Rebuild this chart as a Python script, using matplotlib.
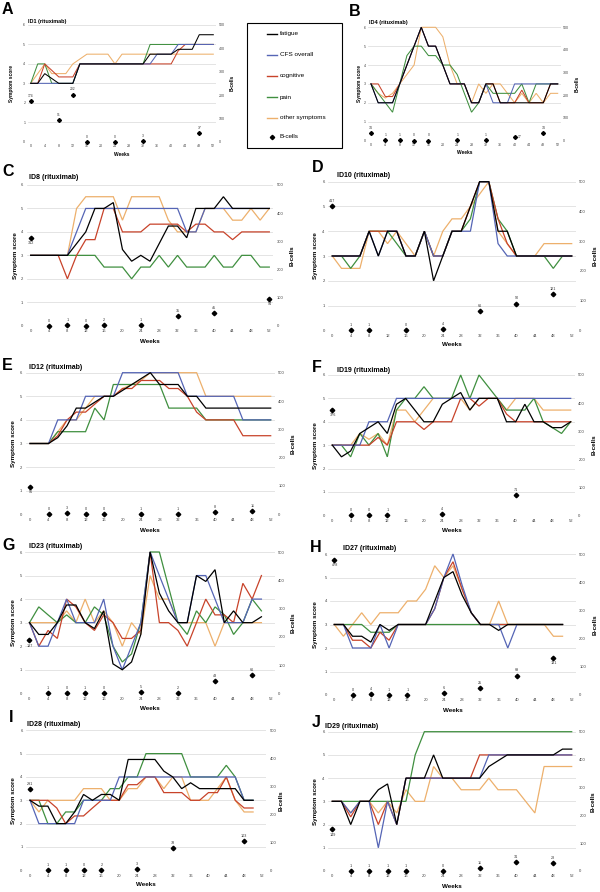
import matplotlib
matplotlib.use('Agg')
import matplotlib.pyplot as plt
from matplotlib.lines import Line2D
from matplotlib.patches import Rectangle

plt.rcParams['font.family'] = ['Liberation Sans', 'DejaVu Sans']

# ---------------- data ----------------
weeks52 = [0, 2, 4, 6, 8, 10, 12, 14, 16, 18, 20, 22, 24, 26, 28, 30, 32, 34, 36, 38, 40, 42, 44, 46, 48, 50, 52]
weeks50 = [0, 2, 4, 6, 8, 10, 12, 14, 16, 18, 20, 22, 24, 26, 28, 30, 32, 34, 36, 38, 40, 42, 44, 46, 48, 50]
series_names = ["fatigue", "CFS overall", "cognitive", "pain", "other symptoms"]
legend_labels = ["fatigue", "CFS overall", "cognitive", "pain", "other symptoms", "B-cells"]

# ID1
A_fatigue = [3, 3, 3.5, 3.25, 3, 3, 3, 4, 4, 4, 4, 4, 4, 4, 4, 4, 4, 4.5, 4.5, 4.5, 4.5, 4.75, 4.75, 4.75, 5.5, 5.5, 5.5]
A_cfs     = [3, 3, 3, 3, 3, 3, 3, 4, 4, 4, 4, 4, 4, 4, 4, 4, 4, 4, 4.5, 4.5, 4.5, 5, 5, 5, 5, 5, 5]
A_cog     = [3, 3, 4, 3.67, 3.33, 3.33, 3.33, 4, 4, 4, 4, 4, 4, 4, 4, 4, 4, 4, 4, 4, 4, 4.67, 5, 5, 5, 5, 5]
A_pain    = [3, 4, 4, 3, 3, 3, 3, 4, 4, 4, 4, 4, 4, 4, 4, 4, 4, 5, 5, 5, 5, 5, 5, 5, 5, 5, 5]
A_other   = [3, 3.5, 4, 3.5, 3.5, 3.5, 4, 4.25, 4.5, 4.5, 4.5, 4.5, 4, 4.5, 4.5, 4.5, 4.5, 4.5, 4.5, 4.5, 4.5, 4.5, 4.5, 4.5, 4.5, 4.5, 4.5]
A_bweeks  = [0, 8, 12, 16, 24, 32, 48]
A_bcells  = [174, 91, 202, 0, 0, 3, 37]

# ID4
B_fatigue = [3, 2, 2, 2, 3, 4, 5, 6, 5, 5, 4, 3, 3, 3, 2, 2, 3, 3, 2, 2, 2, 2, 2, 2, 2, 3, 3]
B_cfs     = [3, 2, 2, 2, 3, 4, 5, 6, 5, 5, 4, 3, 3, 3, 2, 2, 3, 2, 2, 2, 3, 3, 3, 3, 3, 3, 3]
B_cog     = [3, 3, 2.33, 2.33, 3, 4, 5, 6, 5, 5, 4, 3, 3, 3, 2, 2, 3, 3, 2, 2, 2, 2.67, 2, 2, 2, 3, 3]
B_pain    = [3, 2.5, 2, 1.5, 3, 4.5, 5, 5, 4.5, 4.5, 4, 4, 3.5, 2.5, 1.5, 2, 3, 2.5, 2.5, 2.5, 2.5, 3, 2, 3, 3, 3, 3]
B_other   = [3, 2.5, 2.25, 2.5, 3, 3.5, 4, 6, 6, 6, 5.5, 4, 3, 3, 2, 3, 2.5, 3, 3, 2.5, 2, 2.5, 2, 2.5, 2, 2.5, 2.5]
B_bweeks  = [0, 4, 8, 12, 16, 24, 32, 40, 48]
B_bcells  = [34, 1, 1, 0, 0, 1, 1, 17, 34]

# ID8
C_fatigue = [3, 3, 3, 3, 3, 3.5, 4, 5, 5, 5.25, 3.25, 2.75, 3, 2.75, 3.5, 4.25, 4.25, 3.75, 5, 5, 5, 5.5, 5, 5, 5, 5, 5]
C_cfs     = [3, 3, 3, 3, 3, 4, 5, 5, 5, 5, 5, 5, 5, 5, 5, 5, 5, 4, 4, 5, 5, 5, 5, 5, 5, 5, 5]
C_cog     = [3, 3, 3, 3, 2, 3, 3.67, 3.67, 5, 5, 4, 4, 4, 4.33, 4.33, 4.33, 4.33, 4, 4.33, 4.33, 4, 4, 3.67, 4, 4, 4, 4]
C_pain    = [3, 3, 3, 3, 3, 3, 3, 3, 2.5, 2.5, 2.5, 2, 2.5, 2.5, 3, 2.5, 3, 2.5, 2.5, 2.5, 3, 2.5, 2.5, 3, 3, 2.5, 2.5]
C_other   = [3, 3, 3, 3, 3, 5, 5.5, 5.5, 5.5, 5.5, 4.5, 5.5, 5.5, 5.5, 5.5, 4.5, 4, 4, 4, 5, 5, 5, 4.5, 4.5, 5, 4.5, 5]
C_bweeks  = [0, 4, 8, 12, 16, 24, 32, 40, 52]
C_bcells  = [312, 0, 1, 0, 2, 1, 35, 45, 94]

# ID10
D_fatigue = [3, 3, 3, 3, 4, 3, 4, 4, 3, 3, 4, 2, 3, 4, 4, 5, 6, 6, 4, 4, 3, 3, 3, 3, 3, 3, 3]
D_cfs     = [3, 3, 3, 3, 4, 3, 4, 4, 3, 3, 4, 3, 3, 4, 4, 4, 6, 6, 3.5, 3, 3, 3, 3, 3, 3, 3, 3]
D_cog     = [3, 3, 3, 3, 4, 4, 4, 4, 3, 3, 4, 3, 3, 4, 4, 5, 6, 6, 4.5, 3.5, 3, 3, 3, 3, 3, 3, 3]
D_pain    = [3, 3, 2.5, 3, 4, 4, 4, 3.5, 3, 3, 4, 3, 3, 4, 4, 4.5, 6, 6, 4.5, 4, 3, 3, 3, 3, 2.5, 3, 3]
D_other   = [3, 2.5, 2.5, 2.5, 4, 4, 3.5, 4, 3.5, 3, 4, 3, 4, 4.5, 4.5, 5, 5.5, 6, 4, 3.5, 3, 3, 3, 3.5, 3.5, 3.5, 3.5]
D_bweeks  = [0, 4, 8, 16, 24, 32, 40, 48]
D_bcells  = [417, 1, 1, 0, 4, 66, 90, 121]

# ID12
E_fatigue = [3, 3, 3, 3.25, 3.75, 4.5, 4.5, 4.75, 5, 5, 5.25, 5.5, 5.75, 6, 5.5, 5.5, 5.5, 5, 5, 4.5, 4.5, 4.5, 4.5, 4.5, 4.5, 4.5, 4.5]
E_cfs     = [3, 3, 3, 4, 4, 4, 5, 5, 5, 5, 6, 6, 6, 6, 6, 6, 6, 5, 5, 5, 5, 5, 5, 4, 4, 4, 4]
E_cog     = [3, 3, 3, 3.33, 4, 4.33, 4.33, 4.67, 5, 5, 5.33, 5.33, 5.67, 5.67, 5.67, 5.33, 5.33, 5, 4.33, 4, 4, 4, 4, 3.33, 3.33, 3.33, 3.33]
E_pain    = [3, 3, 3, 3.5, 3.5, 3.5, 3.5, 4.5, 4, 5.5, 5.5, 5.5, 5.5, 5.5, 5.5, 4.5, 4.5, 4.5, 4.5, 4, 4, 4, 4, 4, 4, 4, 4]
E_other   = [3, 3, 3, 3.5, 4, 4, 4.5, 5, 5, 5, 5.33, 5.5, 5.67, 6, 6, 6, 6, 6, 6, 5, 5, 5, 5, 5, 5, 5, 5]
E_bweeks  = [0, 4, 8, 12, 16, 24, 32, 40, 48]
E_bcells  = [96, 0, 3, 0, 0, 1, 1, 8, 11]

# ID19
F_fatigue = [3, 2.5, 2.75, 3.5, 3.75, 4, 3.5, 4.75, 5, 4.5, 4, 4, 4.75, 5, 5.25, 4.5, 5, 5, 5, 4, 4, 4.75, 4, 4, 3.75, 3.75, 4]
F_cfs     = [3, 3, 3, 3, 4, 4, 4, 5, 5, 5, 5, 5, 5, 5, 5, 5, 5, 5, 5, 5, 5, 5, 5, 5, 5, 5, 5]
F_cog     = [3, 3, 3, 3, 3, 3.33, 3, 4, 4, 4, 3.67, 4, 4, 4, 5, 5, 4.67, 5, 5, 4.33, 4, 4, 4, 4, 4, 4, 4]
F_pain    = [3, 3, 2.5, 3.5, 3, 3.5, 2.5, 4.5, 5, 5, 5.5, 5, 5, 5, 6, 5, 6, 5.5, 5, 4.5, 4.5, 4.5, 5, 4, 3.75, 3.5, 4]
F_other   = [3, 3, 3, 3.5, 3.25, 3.5, 3, 4.5, 4.5, 4, 4.5, 5, 5, 5, 5, 4.5, 5, 5, 5, 4.5, 5, 5, 5, 4.5, 4.5, 4.5, 4.5]
F_bweeks  = [0, 4, 8, 12, 24, 40]
F_bcells  = [376, 0, 0, 1, 4, 71]

# ID23
G_fatigue = [3, 2.5, 2.5, 3, 3.75, 3.75, 3, 2.75, 3.5, 1.25, 1, 1.33, 2.5, 6, 4.25, 3.5, 3, 3, 5, 4.75, 5.25, 3, 3.5, 3, 3, 3.25]
G_cfs     = [3, 2, 2, 3, 4, 3, 3, 3, 4, 2, 1, 2, 3, 6, 5, 4, 3, 3, 5, 5, 4, 3, 3, 3, 4, 4]
G_cog     = [3, 2, 2.67, 2.33, 4, 3.67, 3, 2.67, 3.33, 3, 2.33, 2.33, 2.67, 6, 3, 3, 2.67, 2, 3, 4, 3.33, 3.33, 3, 4.67, 4, 5]
G_pain    = [3, 3.67, 3.33, 3, 3.33, 3, 3, 3.67, 3.33, 2, 1.33, 1.67, 3, 6, 6, 4.5, 3, 2.5, 3.5, 3, 3.67, 3.33, 2.5, 3, 4, 3.5]
G_other   = [3, 3, 3, 3, 3.5, 3, 4, 3, 3.5, 3, 2, 3, 2.5, 5, 4, 4, 3, 3, 3, 3, 2, 3, 3, 3, 3, 3]
G_bweeks  = [0, 4, 8, 12, 16, 24, 32, 40, 48]
G_bcells  = [187, 1, 0, 1, 0, 5, 2, 43, 66]

# ID27
H_fatigue = [3, 3, 2.5, 2.5, 2.25, 3, 2.75, 3, 3, 3, 3, 4, 5, 5.25, 4.25, 3.5, 3, 3, 2.75, 3, 3, 3, 3, 3, 3, 3]
H_cfs     = [3, 3, 2, 2, 2, 3, 2, 3, 3, 3, 3, 3.67, 5, 6, 4.67, 3.5, 3, 3, 3, 2, 3, 3, 3, 3, 3, 3]
H_cog     = [3, 3, 2.33, 2.33, 2, 2.67, 2.33, 3, 3, 3, 3, 3.67, 5, 5.67, 4.5, 3.5, 3, 3, 3, 3, 3, 3, 3, 3, 3, 3]
H_pain    = [3, 3, 3, 3, 2.67, 2.67, 2.67, 3, 3, 3, 3, 3, 3, 3, 3, 3, 3, 3, 3, 3, 3, 3, 3, 3, 3, 3]
H_other   = [3, 2.5, 3, 3.5, 3, 3.5, 3.5, 3.5, 4, 4, 4.5, 5.5, 5, 5.5, 4.5, 3.5, 3, 3, 4, 3, 3, 3, 3, 3, 2.5, 2.5]
H_bweeks  = [0, 4, 8, 12, 16, 24, 32, 40, 48]
H_bcells  = [478, 0, 4, 1, 1, 6, 25, 69, 131]

# ID28
I_fatigue = [3, 2.75, 2.75, 2, 2, 2.5, 3.25, 3, 3.25, 3.25, 3, 4.75, 4.75, 4.75, 4.75, 4.25, 4, 3.5, 3.75, 3.5, 3.5, 3.5, 3.5, 3.5, 3, 3]
I_cfs     = [3, 2, 2, 2, 2, 2, 3, 3, 3, 3, 4, 4, 4, 4, 4, 4, 4, 4, 4, 4, 4, 4, 4, 4, 3, 3]
I_cog     = [3, 3, 3, 2.67, 2, 2.33, 2.33, 2.67, 3, 3, 3, 3.67, 3.67, 4, 4, 3.33, 3.33, 3.33, 3, 3, 3.33, 3.33, 4, 3, 2.67, 2.67]
I_pain    = [3, 3, 2, 2, 2.5, 2.5, 3, 3, 3, 3.5, 3.5, 4, 4, 5, 5, 5, 5, 5, 4, 4, 4, 4, 4.5, 4, 3, 3]
I_other   = [3, 2.5, 3, 3, 3, 3, 3.5, 3.5, 3.5, 3, 3, 3.5, 3.5, 4, 4, 3.5, 4, 4, 3, 3, 3, 3.5, 4, 3, 2.5, 2.5]
I_bweeks  = [0, 4, 8, 12, 16, 24, 32, 48]
I_bcells  = [291, 1, 1, 0, 2, 3, 78, 103]

# ID29
J_fatigue = [3, 3, 2, 3, 3, 3.5, 3.75, 2, 4, 4, 4, 5, 4, 4, 4, 4, 4, 4.5, 4.75, 5, 5, 5, 5, 5, 5, 5.25, 5.25]
J_cfs     = [3, 3, 2.5, 3, 3, 1, 3, 2, 4, 4, 4, 4, 4, 4, 4, 4, 4, 5, 5, 5, 5, 5, 5, 5, 5, 5, 5]
J_cog     = [3, 3, 2.33, 3, 3, 2, 3, 2, 4, 4, 4, 4, 4, 4, 4, 4, 5, 5, 5, 5, 5, 5, 5, 5, 5, 5, 5]
J_pain    = [3, 3, 3, 3, 3, 3, 3, 3, 3, 5, 6, 6, 6, 6, 6, 6, 6, 6, 6, 6, 6, 6, 6, 6, 6, 6, 6]
J_other   = [3, 3, 2.5, 3, 3, 2.5, 3, 2.5, 3.5, 3, 3, 4.5, 4, 4, 3.5, 3.5, 3.5, 4, 3.5, 3.5, 3.5, 3, 2.5, 4.5, 4.5, 4.5, 4.5]
J_bweeks  = [0, 4, 8, 12, 16, 24, 32, 40, 48]
J_bcells  = [149, 1, 1, 1, 1, 0, 11, 31, 28]

# ---------------- styling ----------------
COL = {"fatigue": "#000000", "CFS overall": "#5565B5", "cognitive": "#C8432A",
       "pain": "#3F8F3F", "other symptoms": "#EDB06C"}
DRAW_ORDER = ["other symptoms", "pain", "cognitive", "CFS overall", "fatigue"]
GRID = "#D9D9D9"
TICKC = "#404040"

W, H = 600, 892
fig = plt.figure(figsize=(6, 8.92), dpi=100)


def fx(x):
    return x / W


def fy(y):
    return 1 - y / H


def panel(letter, title, weeks, vals, bweeks, bvals, box, letter_xy, title_xy,
          sym_x, bc_x, weeks_y, small=False, below=(), right=()):
    x0, x52, y6, y0 = box
    pw = (x52 - x0) / 52.0
    left = x0 - 0.9 * pw
    rightpx = x52 + 0.9 * pw
    ax = fig.add_axes([fx(left), fy(y0), (rightpx - left) / W, (y0 - y6) / H])
    ax.set_xlim(-0.9, 52.9)
    ax.set_ylim(0, 6)
    fs_t = 2.6 if small else 3.0
    lw = 0.75 if small else 0.9
    pad = 1.6 if small else 2.5
    for s in ax.spines.values():
        s.set_visible(False)
    ax.set_yticks(range(0, 7))
    ax.set_xticks(range(0, 53, 4))
    ax.tick_params(length=0, labelsize=fs_t, colors=TICKC, pad=pad)
    for yv in range(0, 7):
        ax.axhline(yv, color=GRID, lw=0.5, zorder=0)
    for name in DRAW_ORDER:
        ax.plot(weeks, vals[name], color=COL[name], lw=lw, clip_on=False,
                solid_joinstyle='miter', zorder=2)
    ax2 = ax.twinx()
    ax2.set_ylim(0, 500)
    ax2.set_yticks(range(0, 501, 100))
    for s in ax2.spines.values():
        s.set_visible(False)
    ax2.tick_params(length=0, labelsize=fs_t, colors=TICKC, pad=pad)
    ax2.plot(bweeks, bvals, 'D', color='black', ms=2.0 if small else 2.3,
             clip_on=False, zorder=3)
    lfs = 2.4 if small else 2.7
    for w, v in zip(bweeks, bvals):
        if w in right:
            ax2.annotate(str(v), (w, v), xytext=(2.0, 0), textcoords='offset points',
                         ha='left', va='center', fontsize=lfs, color='#333333')
        elif w in below:
            ax2.annotate(str(v), (w, v), xytext=(0.5, -2.2), textcoords='offset points',
                         ha='center', va='top', fontsize=lfs, color='#333333')
        else:
            ax2.annotate(str(v), (w, v), xytext=(0, 2.2), textcoords='offset points',
                         ha='center', va='bottom', fontsize=lfs, color='#333333')
    # texts
    fig.text(fx(letter_xy[0]), fy(letter_xy[1]), letter, fontsize=11.5, fontweight='bold',
             ha='left', va='center')
    fig.text(fx(title_xy[0]), fy(title_xy[1]), title, fontsize=4.0 if small else 5.0,
             fontweight='bold', ha='left', va='center')
    afs = 3.5 if small else 4.5
    yc = (y6 + y0) / 2.0
    fig.text(fx(sym_x), fy(yc), "Symptom score", rotation=90, fontsize=afs,
             fontweight='bold', ha='center', va='center')
    fig.text(fx(bc_x), fy(yc), "B-cells", rotation=90, fontsize=afs,
             fontweight='bold', ha='center', va='center')
    fig.text(fx((x0 + x52) / 2.0), fy(weeks_y), "Weeks", fontsize=afs,
             fontweight='bold', ha='center', va='center')
    return ax


def pack(f, c, g, p, o):
    return {"fatigue": f, "CFS overall": c, "cognitive": g, "pain": p, "other symptoms": o}


panel("A", "ID1 (rituximab)", weeks52, pack(A_fatigue, A_cfs, A_cog, A_pain, A_other),
      A_bweeks, A_bcells, (30.7, 213.3, 25.0, 141.7), (2, 10), (28, 21.7), 12, 232, 154,
      small=True)
panel("B", "ID4 (rituximab)", weeks52, pack(B_fatigue, B_cfs, B_cog, B_pain, B_other),
      B_bweeks, B_bcells, (371.0, 557.7, 27.3, 140.5), (349, 11), (369, 22.7), 359.5, 576.7, 152.3,
      small=True, right=(40,))
panel("C", "ID8 (rituximab)", weeks52, pack(C_fatigue, C_cfs, C_cog, C_pain, C_other),
      C_bweeks, C_bcells, (30.7, 269.3, 185.0, 325.7), (2, 172), (29, 177.7), 15, 292, 341.7,
      below=(0, 52))
panel("D", "ID10 (rituximab)", weeks52, pack(D_fatigue, D_cfs, D_cog, D_pain, D_other),
      D_bweeks, D_bcells, (332.3, 571.7, 181.7, 330.3), (312, 168), (336.7, 175), 315, 595, 345)
panel("E", "ID12 (rituximab)", weeks52, pack(E_fatigue, E_cfs, E_cog, E_pain, E_other),
      E_bweeks, E_bcells, (30.0, 270.7, 372.7, 514.3), (2, 365.5), (29, 367.3), 14, 293, 530,
      below=(0,))
panel("F", "ID19 (rituximab)", weeks52, pack(F_fatigue, F_cfs, F_cog, F_pain, F_other),
      F_bweeks, F_bcells, (332.3, 570.7, 375.0, 515.3), (312, 367), (336.7, 370), 315, 594.3, 531,
      below=(0,))
panel("G", "ID23 (rituximab)", weeks50, pack(G_fatigue, G_cfs, G_cog, G_pain, G_other),
      G_bweeks, G_bcells, (29.5, 270.7, 552.0, 693.3), (2, 546), (29, 546.7), 14, 293, 708.3,
      below=(0,))
panel("H", "ID27 (rituximab)", weeks50, pack(H_fatigue, H_cfs, H_cog, H_pain, H_other),
      H_bweeks, H_bcells, (334.3, 571.7, 554.0, 695.0), (310, 547), (343, 549), 315.7, 595, 710.7,
      below=(0, 48))
panel("I", "ID28 (rituximab)", weeks50, pack(I_fatigue, I_cfs, I_cog, I_pain, I_other),
      I_bweeks, I_bcells, (30.0, 262.0, 730.3, 870.3), (9, 717.5), (26.7, 725), 13.3, 281, 885)
panel("J", "ID29 (rituximab)", weeks52, pack(J_fatigue, J_cfs, J_cog, J_pain, J_other),
      J_bweeks, J_bcells, (332.3, 571.7, 731.7, 871.0), (312, 722.5), (325, 726), 315, 593, 886,
      below=(0,))

# ---------------- legend box ----------------
lx0, ly0, lx1, ly1 = 247, 23, 342, 148
fig.patches.append(Rectangle((fx(lx0), fy(ly1)), (lx1 - lx0) / W, (ly1 - ly0) / H,
                             transform=fig.transFigure, fill=False, edgecolor='black', lw=0.8))
leg_y = [34, 54.7, 76, 97, 118, 137]
for name, yy in zip(legend_labels, leg_y):
    if name == "B-cells":
        fig.lines.append(Line2D([fx(271.5)], [fy(yy)], marker='D', ms=2.2, color='black',
                                transform=fig.transFigure))
    else:
        fig.lines.append(Line2D([fx(266.7), fx(276.7)], [fy(yy), fy(yy)], color=COL[name],
                                lw=1.0, transform=fig.transFigure))
    fig.text(fx(280), fy(yy), name, fontsize=4.6, ha='left', va='center')

fig.savefig("out.png", dpi=100)
